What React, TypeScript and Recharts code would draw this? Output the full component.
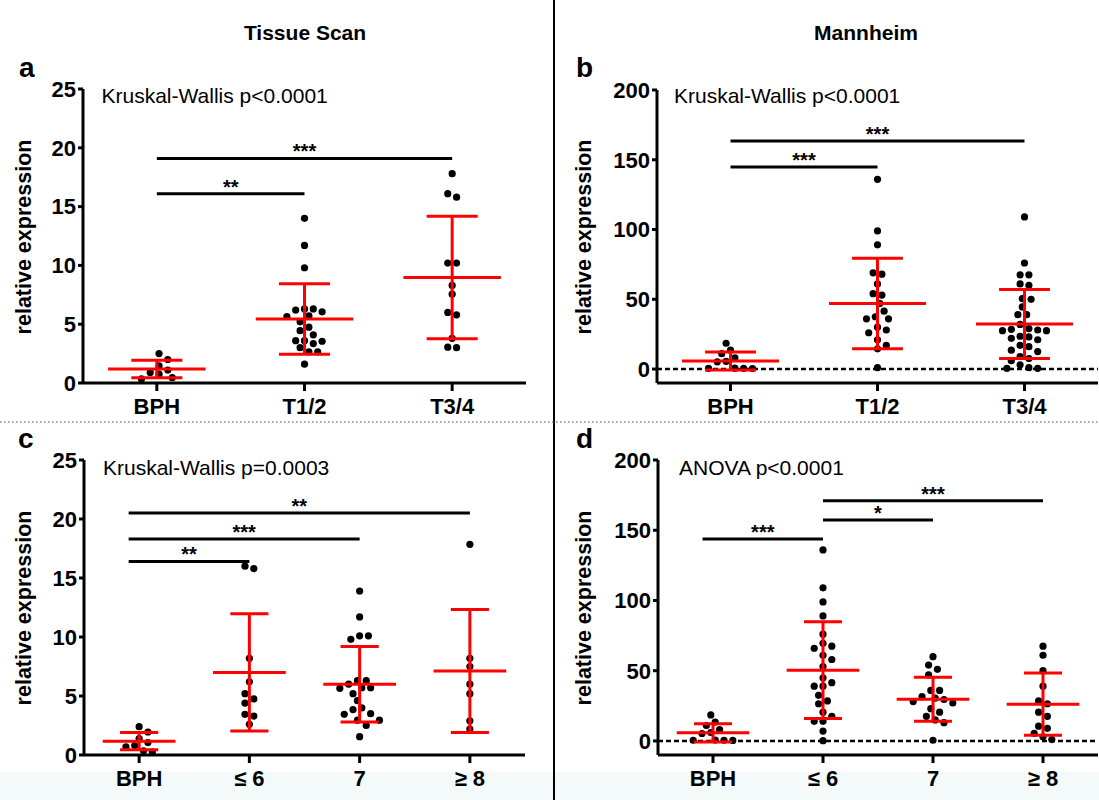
import React from "react";
import { ScatterChart, Scatter, XAxis, YAxis, ReferenceLine } from "recharts";

const FONT = '"Liberation Sans", Arial, Helvetica, sans-serif';

// categories
const stageCats = ["BPH", "T1/2", "T3/4"];
const gleasonCats = ["BPH", "≤ 6", "7", "≥ 8"];

// tick labels
const tissueTicks = [0, 5, 10, 15, 20, 25];
const mannheimTicks = [0, 50, 100, 150, 200];

// a: Tissue Scan by stage
const aBph = [2.5, 2.0, 1.45, 1.1, 0.9, 0.75, 0.45, 0.35];
const aT12 = [14.0, 11.7, 9.8, 6.3, 6.3, 6.2, 6.05, 5.7, 5.65, 5.2, 4.75, 4.45, 4.1, 3.6, 3.6, 3.55, 3.35, 3.0, 2.65, 2.65, 1.6];
const aT34 = [17.8, 16.1, 15.8, 10.2, 10.2, 8.3, 7.55, 6.0, 5.8, 3.8, 3.05, 3.0];
const aMeans = [1.19, 5.44, 8.97];
const aSds = [0.74, 3.0, 5.2];

// b: Mannheim by stage
const bBph = [18.5, 13.5, 11.0, 8.0, 5.5, 5.2, 0.6, 0.5, 0.5, 0.4];
const bT12 = [136, 99, 89, 69, 68, 61, 54, 53, 47, 41.5, 37.5, 36, 36, 30, 28, 26, 21, 17, 14.5, 1];
const bT34 = [109, 76, 67.5, 67.5, 61, 60, 50.5, 50, 44.5, 39, 39, 32, 29, 28.5, 28, 27.5, 27.5, 23.5, 23, 22, 21, 17, 16, 13.5, 12.5, 9, 7.5, 6, 3, 1, 0.5, 0.5];
const bMeans = [5.8, 47, 32.3];
const bSds = [6.5, 32.4, 24.8];

// c: Tissue Scan by Gleason
const cBph = [2.4, 1.95, 1.4, 1.05, 0.8, 0.7, 0.35, 0.25];
const cLe6 = [16.0, 15.8, 8.2, 6.2, 5.2, 4.75, 4.4, 3.45, 3.3, 2.6];
const c7 = [13.9, 11.7, 10.1, 10.1, 9.8, 6.3, 6.3, 6.0, 5.7, 5.7, 5.65, 5.2, 4.6, 4.0, 3.85, 3.5, 3.45, 2.95, 2.95, 2.5, 1.55];
const cGe8 = [17.85, 8.2, 7.5, 6.0, 5.2, 2.9, 2.2];
const cMeans = [1.17, 7.0, 6.0, 7.12];
const cSds = [0.73, 4.97, 3.2, 5.22];

// d: Mannheim by Gleason
const dBph = [18.5, 13.5, 11.0, 8.0, 6.0, 5.3, 0.6, 0.5, 0.5, 0.4];
const dLe6 = [136, 109, 99, 89, 76, 69.5, 67.5, 66, 61, 58, 53, 45, 41.5, 39, 39, 32.5, 28.5, 26.5, 20.5, 17.5, 14, 14, 7, 0.2];
const d7 = [60, 54, 51, 47, 36, 36, 31.5, 30.5, 29.5, 28, 27, 23, 20.5, 17.5, 15, 13, 0.5];
const dGe8 = [67.5, 61, 50, 39, 28.5, 26.5, 20.5, 17.5, 10.5, 9, 5.5, 3, 1];
const dMeans = [5.8, 50.4, 29.7, 26.2];
const dSds = [6.5, 34.4, 15.6, 22.2];

// significance brackets (group index from/to, height in data units)
const aSigs = [
  { from: 0, to: 1, y: 16.1, stars: "**" },
  { from: 0, to: 2, y: 19.1, stars: "***" },
];
const bSigs = [
  { from: 0, to: 1, y: 144.8, stars: "***" },
  { from: 0, to: 2, y: 163.4, stars: "***" },
];
const cSigs = [
  { from: 0, to: 1, y: 16.4, stars: "**" },
  { from: 0, to: 2, y: 18.3, stars: "***" },
  { from: 0, to: 3, y: 20.5, stars: "**" },
];
const dSigs = [
  { from: 0, to: 1, y: 143.8, stars: "***" },
  { from: 1, to: 2, y: 157.3, stars: "*" },
  { from: 1, to: 3, y: 171, stars: "***" },
];

type Sig = { from: number; to: number; y: number; stars: string };
type Box = { left: number; top: number; width: number; height: number };
type Plot = { x0: number; x1: number; y0: number; y1: number };

// simple beeswarm: place dots greedily, then re-center each vertical cluster
function swarm(values: number[], pxPerUnit: number, bandPx: number) {
  const step = 4.4;
  const d = 8.2;
  const order = values.map((_, i) => i).sort((i, j) => values[j] - values[i]);
  const dx: number[] = new Array(values.length).fill(0);
  const placed: number[] = [];
  for (const i of order) {
    const py = values[i] * pxPerUnit;
    for (let k = 0; k < 60; k++) {
      const m = Math.ceil(k / 2) * (k % 2 ? 1 : -1);
      const cand = m * step;
      const ok = placed.every((j) => (dx[j] - cand) ** 2 + (values[j] * pxPerUnit - py) ** 2 >= d * d);
      if (ok) {
        dx[i] = cand;
        placed.push(i);
        break;
      }
    }
  }
  // clusters of points chained within d vertically
  let start = 0;
  for (let k = 1; k <= order.length; k++) {
    const gap = k < order.length ? (values[order[k - 1]] - values[order[k]]) * pxPerUnit : Infinity;
    if (gap >= d) {
      const idx = order.slice(start, k);
      const lo = Math.min(...idx.map((i) => dx[i]));
      const hi = Math.max(...idx.map((i) => dx[i]));
      const c = (lo + hi) / 2;
      idx.forEach((i) => (dx[i] -= c));
      start = k;
    }
  }
  return dx.map((v) => v / bandPx);
}

function Panel(p: {
  box: Box;
  plot: Plot;
  cats: string[];
  groups: number[][];
  means: number[];
  sds: number[];
  sigs: Sig[];
  domain: [number, number];
  ticks: number[];
  zeroLine?: boolean;
  sigNudge?: number;
}) {
  const { box, plot, cats, groups, means, sds, sigs, domain, ticks } = p;
  const n = cats.length;
  const bandPx = (plot.x1 - plot.x0) / n;
  const pxPerUnit = (plot.y1 - plot.y0) / (domain[1] - domain[0]);
  const points = groups.flatMap((vals, gi) => {
    const offs = swarm(vals, pxPerUnit, bandPx);
    return vals.map((v, i) => ({ x: gi + offs[i], y: v }));
  });
  const xAxisH = 40;
  const margin = {
    top: plot.y0 - box.top,
    right: box.left + box.width - plot.x1,
    bottom: box.top + box.height - plot.y1 - xAxisH,
    left: 0,
  };
  const tickStyle = { fontSize: 22, fontWeight: 700, fill: "#000", fontFamily: FONT };
  const red = { stroke: "#ff0000", strokeWidth: 3, ifOverflow: "visible" as const, zIndex: 700 };
  const meanHalf = 0.33;
  const capHalf = 0.173;
  const nudge = p.sigNudge ?? 0;

  return (
    <div style={{ position: "absolute", left: box.left, top: box.top }}>
      <ScatterChart width={box.width} height={box.height} margin={margin}>
        <XAxis
          type="number"
          dataKey="x"
          domain={[-0.5, n - 0.5]}
          ticks={cats.map((_, i) => i)}
          tickFormatter={(v: number) => cats[Math.round(v)]}
          interval={0}
          height={xAxisH}
          allowDataOverflow
          axisLine={{ stroke: "#000", strokeWidth: 3 }}
          tickLine={{ stroke: "#000", strokeWidth: 3 }}
          tickSize={8}
          tickMargin={7}
          tick={tickStyle}
        />
        <YAxis
          type="number"
          dataKey="y"
          domain={domain}
          ticks={ticks}
          interval={0}
          width={plot.x0 - box.left}
          allowDataOverflow
          axisLine={{ stroke: "#000", strokeWidth: 3 }}
          tickLine={{ stroke: "#000", strokeWidth: 3 }}
          tickSize={5}
          tickMargin={2}
          tick={tickStyle}
        />
        {p.zeroLine && <ReferenceLine y={0} stroke="#000" strokeWidth={2.5} strokeDasharray="5 3" />}
        <Scatter
          data={points}
          isAnimationActive={false}
          shape={(s: any) => <circle cx={s.cx} cy={s.cy} r={3.6} fill="#000" />}
        />
        {means.map((m, i) => (
          <React.Fragment key={"m" + i}>
            <ReferenceLine segment={[{ x: i, y: m - sds[i] }, { x: i, y: m + sds[i] }]} {...red} />
            <ReferenceLine segment={[{ x: i - meanHalf, y: m }, { x: i + meanHalf, y: m }]} {...red} />
            <ReferenceLine segment={[{ x: i - capHalf, y: m + sds[i] }, { x: i + capHalf, y: m + sds[i] }]} {...red} />
            <ReferenceLine segment={[{ x: i - capHalf, y: m - sds[i] }, { x: i + capHalf, y: m - sds[i] }]} {...red} />
          </React.Fragment>
        ))}
        {sigs.map((s, i) => (
          <ReferenceLine
            key={"s" + i}
            segment={[{ x: s.from + (s.from === 0 ? nudge : 0), y: s.y }, { x: s.to, y: s.y }]}
            stroke="#000"
            strokeWidth={3}
            ifOverflow="visible"
            label={{ value: s.stars, position: "top", offset: 0, fontSize: 20, fontWeight: 700, fill: "#000", fontFamily: FONT }}
          />
        ))}
      </ScatterChart>
    </div>
  );
}

export default function App() {
  const bold = { fontFamily: FONT, fontWeight: 700, fill: "#000" };
  const plain = { fontFamily: FONT, fontWeight: 400, fill: "#000", fontSize: 21 };
  return (
    <div style={{ position: "absolute", left: 0, top: 0, width: 1099, height: 800, background: "#fff", overflow: "hidden" }}>
      <div style={{ position: "absolute", left: 0, top: 772, width: 1099, height: 28, background: "#f4f9f9" }} />
      <Panel
        box={{ left: 0, top: 60, width: 550, height: 362 }}
        plot={{ x0: 83, x1: 526, y0: 89, y1: 383 }}
        cats={stageCats}
        groups={[aBph, aT12, aT34]}
        means={aMeans}
        sds={aSds}
        sigs={aSigs}
        domain={[0, 25]}
        ticks={tissueTicks}
      />
      <Panel
        box={{ left: 556, top: 60, width: 543, height: 362 }}
        plot={{ x0: 657, x1: 1098, y0: 90, y1: 383 }}
        cats={stageCats}
        groups={[bBph, bT12, bT34]}
        means={bMeans}
        sds={bSds}
        sigs={bSigs}
        domain={[-10, 200]}
        ticks={mannheimTicks}
        zeroLine
      />
      <Panel
        box={{ left: 0, top: 430, width: 550, height: 370 }}
        plot={{ x0: 84, x1: 525, y0: 460, y1: 755 }}
        cats={gleasonCats}
        groups={[cBph, cLe6, c7, cGe8]}
        means={cMeans}
        sds={cSds}
        sigs={cSigs}
        domain={[0, 25]}
        ticks={tissueTicks}
        sigNudge={-0.095}
      />
      <Panel
        box={{ left: 556, top: 430, width: 543, height: 370 }}
        plot={{ x0: 658, x1: 1098, y0: 460, y1: 755 }}
        cats={gleasonCats}
        groups={[dBph, dLe6, d7, dGe8]}
        means={dMeans}
        sds={dSds}
        sigs={dSigs}
        domain={[-10, 200]}
        ticks={mannheimTicks}
        zeroLine
        sigNudge={-0.095}
      />
      <svg width={1099} height={800} style={{ position: "absolute", left: 0, top: 0, pointerEvents: "none" }}>
        <line x1={554} y1={0} x2={554} y2={800} stroke="#000" strokeWidth={2} />
        <line x1={0} y1={422} x2={1099} y2={422} stroke="#8a8a8a" strokeWidth={1.5} strokeDasharray="1.5 2.5" />
        <text x={305} y={40} textAnchor="middle" fontSize={21} {...bold}>Tissue Scan</text>
        <text x={866} y={40} textAnchor="middle" fontSize={21} {...bold}>Mannheim</text>
        <text x={19} y={77} fontSize={28} {...bold}>a</text>
        <text x={576} y={77} fontSize={28} {...bold}>b</text>
        <text x={18} y={448} fontSize={28} {...bold}>c</text>
        <text x={576} y={448} fontSize={28} {...bold}>d</text>
        <text x={101.5} y={103} {...plain}>Kruskal-Wallis p&lt;0.0001</text>
        <text x={674} y={103} {...plain}>Kruskal-Wallis p&lt;0.0001</text>
        <text x={103} y={474.5} {...plain}>Kruskal-Wallis p=0.0003</text>
        <text x={679} y={474.5} {...plain}>ANOVA p&lt;0.0001</text>
        <text transform="translate(31,237) rotate(-90)" textAnchor="middle" fontSize={21.5} {...bold}>relative expression</text>
        <text transform="translate(591,237) rotate(-90)" textAnchor="middle" fontSize={21.5} {...bold}>relative expression</text>
        <text transform="translate(31,608) rotate(-90)" textAnchor="middle" fontSize={21.5} {...bold}>relative expression</text>
        <text transform="translate(591,608) rotate(-90)" textAnchor="middle" fontSize={21.5} {...bold}>relative expression</text>
      </svg>
    </div>
  );
}
